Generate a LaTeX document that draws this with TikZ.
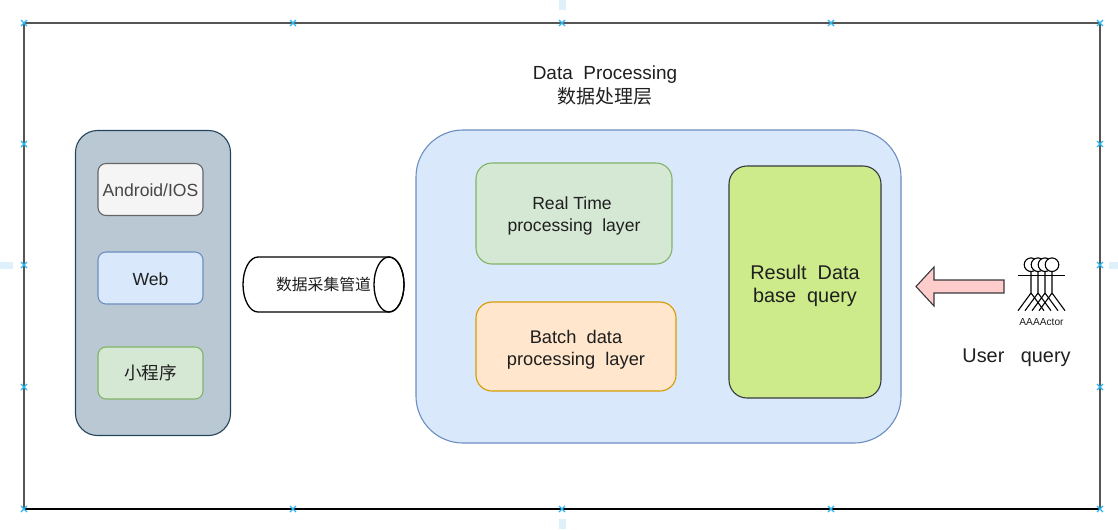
\documentclass[tikz,border=0pt]{standalone}
\usepackage{fontspec}
\setmainfont{Liberation Sans}
\newfontfamily\cjkfont{Noto Sans CJK SC}
\newcommand{\pxu}{0.02cm}
\newcommand{\txt}[2]{\fontsize{#1}{#2}\selectfont}
\definecolor{inkC}{HTML}{1F1F1F}
\definecolor{frameC}{HTML}{555555}
\definecolor{markC}{HTML}{29B6F2}
\definecolor{guideC}{HTML}{DEF1FB}
\definecolor{slateF}{HTML}{BAC8D3}
\definecolor{slateD}{HTML}{23445D}
\definecolor{greyF}{HTML}{F5F5F5}
\definecolor{greyD}{HTML}{666666}
\definecolor{blueF}{HTML}{DAE8FC}
\definecolor{blueD}{HTML}{6C8EBF}
\definecolor{greenF}{HTML}{D5E8D4}
\definecolor{greenD}{HTML}{82B366}
\definecolor{orangeF}{HTML}{FFE6CC}
\definecolor{orangeD}{HTML}{D79B00}
\definecolor{limeF}{HTML}{CDEB8B}
\definecolor{darkD}{HTML}{36393D}
\definecolor{pinkF}{HTML}{FFCCCC}
\tikzset{
  panel/.style={draw=#1, line width=1.1*\pxu, align=center, text=inkC},
  boxA/.style={panel=#1, rounded corners=8*\pxu},
  boxB/.style={panel=#1, rounded corners=16*\pxu},
  plain/.style={inner sep=0pt, align=center, text=inkC},
  guide/.style={draw=none, fill=guideC},
  markline/.style={draw=markC, line width=1.2*\pxu},
}
\begin{document}
\begin{tikzpicture}[x=0.02cm, y=-0.02cm]
\useasboundingbox (0,0) rectangle (1118,529);
% page guides
\fill[guide] (559,0) rectangle (566,10);
\fill[guide] (559,519) rectangle (566,529);
\fill[guide] (0,262) rectangle (13,269);
\fill[guide] (1109,262) rectangle (1118,269);
% outer frame
\draw[draw=frameC, line width=2*\pxu] (24,509) -- (24,23) -- (1100,23) -- (1100,509);
\draw[black, line width=1.3*\pxu] (24,509) -- (1100,509);
\foreach \mx in {24,293,562,831,1100} {
  \foreach \my in {23,509} {
    \draw[markline] (\mx-3,\my-3) -- (\mx+3,\my+3) (\mx-3,\my+3) -- (\mx+3,\my-3);
  }
}
\foreach \mx in {24,1100} {
  \foreach \my in {144,265,387} {
    \draw[markline] (\mx-3,\my-3) -- (\mx+3,\my+3) (\mx-3,\my+3) -- (\mx+3,\my-3);
  }
}
% left column
\node[panel=slateD, fill=slateF, rounded corners=22*\pxu, minimum width=155*\pxu, minimum height=305*\pxu] (client) at (153,283) {};
\node[boxA=greyD, fill=greyF, minimum width=105*\pxu, minimum height=52*\pxu] (android) at (150.5,189.5) {};
\node[plain, text=black!72, font=\txt{10}{12.5}] (androidText) at (150.5,190.5) {Android/IOS};
\node[boxA=blueD, fill=blueF, minimum width=105*\pxu, minimum height=52*\pxu] (web) at (150.5,278) {};
\node[plain, font=\txt{10}{12.5}] (webText) at (150.5,279) {Web};
\node[boxA=greenD, fill=greenF, minimum width=105*\pxu, minimum height=52*\pxu, font=\txt{10}{12.5}\cjkfont, inner sep=0pt] (mini) at (150.5,373) {小程序};
% collector pipe
\draw[black, line width=1.3*\pxu, fill=white] (258,257) arc [start angle=270, end angle=90, x radius=15, y radius=27.5] -- (389,312) arc [start angle=90, end angle=-90, x radius=15, y radius=27.5] -- cycle;
\draw[black, line width=1.3*\pxu] (389,284.5) ellipse [x radius=15, y radius=27.5];
\node[plain, font=\txt{9}{11}\cjkfont] (pipe) at (323.5,284) {数据采集管道};
% processing block
\node[plain, font=\txt{10.8}{13.6}] (title) at (605,85.5) {Data\ \ Processing\\{\cjkfont 数据处理层}};
\node[panel=blueD, fill=blueF, rounded corners=47*\pxu, minimum width=485*\pxu, minimum height=313*\pxu] (proc) at (658.5,286.5) {};
\node[boxB=greenD, fill=greenF, minimum width=196*\pxu, minimum height=101*\pxu] (realtime) at (574,213.5) {};
\node[plain, font=\txt{10}{12.5}] (realtimeText) at (574,216) {Real\ Time\hspace*{0.08cm}\\processing\ \ layer};
\node[boxB=orangeD, fill=orangeF, minimum width=200*\pxu, minimum height=89*\pxu] (batch) at (576,346.5) {};
\node[plain, font=\txt{10.4}{12.5}] (batchText) at (576,349.5) {Batch\ \ data\\processing\ \ layer};
\node[panel=darkD, fill=limeF, rounded corners=18*\pxu, minimum width=152*\pxu, minimum height=232*\pxu] (result) at (805,282) {};
\node[plain, font=\txt{11.3}{13}] (resultText) at (805,285.5) {Result\ \ Data\\base\ \ query};
% query arrow
\coordinate (tip) at (916,286.5);
\draw[darkD, line width=1.1*\pxu, fill=pinkF] (tip) -- (934,267) -- (934,280) -- (1004,280) -- (1004,293) -- (934,293) -- (934,306) -- cycle;
% actors
\foreach \ax in {1031,1038,1045,1052} {
  \draw[black, line width=1.1*\pxu, fill=white] (\ax,264.7) circle [radius=6.8];
  \draw[black, line width=1.1*\pxu] (\ax,271.5) -- (\ax,293) -- (\ax-13,310.7) (\ax,293) -- (\ax+13,310.7);
}
\draw[black, line width=1.1*\pxu] (1018,275.7) -- (1065,275.7);
\node[plain, font=\txt{5.8}{7}] (actor) at (1041.5,322) {AAAActor};
\node[plain, font=\txt{11.3}{13}] (user) at (1016.5,358) {User\ \ \ query};
\end{tikzpicture}
\end{document}
